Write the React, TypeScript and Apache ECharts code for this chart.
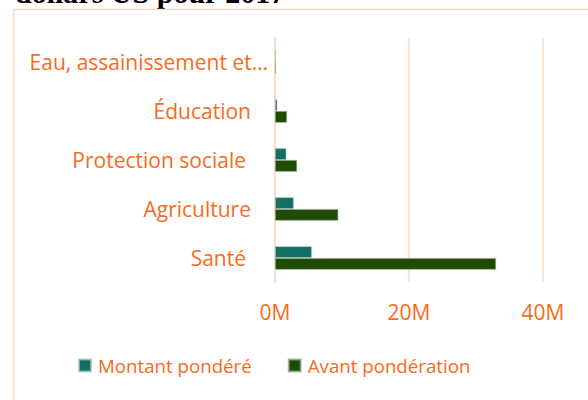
import React, { useEffect, useRef } from "react";
import * as echarts from "echarts";

const categories = ["Santé", "Agriculture", "Protection sociale", "Éducation", "Eau, assainissement et…"];
const montantPondere = [5.5, 2.8, 1.7, 0.35, 0.1];
const avantPonderation = [33.0, 9.45, 3.3, 1.8, 0.15];
const seriesNames = ["Montant pondéré", "Avant pondération"];
const xTicks = { min: 0, max: 40, interval: 20 };
const titleText = "dollars US pour 2017";

const ORANGE = "#F96A1B";
const PEACH = "#FDDAC6";
const FONT = "Open Sans";
const AX = 21;

export default function App() {
  const ref = useRef<HTMLDivElement>(null);
  useEffect(() => {
    if (!ref.current) return;
    const chart = echarts.init(ref.current, undefined, { renderer: "svg" });
    chart.setOption({
      animation: false,
      backgroundColor: "#ffffff",
      graphic: [
        {
          type: "text",
          left: 15,
          top: -23,
          style: { text: titleText, font: "bold 30px 'Liberation Serif', serif", fill: "#000" },
        },
        {
          type: "rect",
          shape: { x: 13.5, y: 9.5, width: 700, height: 500 },
          style: { fill: "none", stroke: PEACH, lineWidth: 1.5 },
        },
      ],
      legend: {
        left: 78,
        top: 356,
        padding: 0,
        itemWidth: 12,
        itemHeight: 12,
        itemGap: 36,
        icon: "rect",
        textStyle: { color: ORANGE, fontFamily: FONT, fontSize: 18.7, padding: [0, 0, 0, 2] },
        data: seriesNames,
      },
      grid: { left: 275, right: 45, top: 37.5, bottom: 117.5, containLabel: false },
      xAxis: {
        type: "value",
        min: xTicks.min,
        max: xTicks.max,
        interval: xTicks.interval,
        axisLine: { show: false },
        axisTick: { show: false },
        splitLine: { show: true, lineStyle: { color: PEACH, width: 1.5 } },
        axisLabel: {
          color: ORANGE,
          fontFamily: FONT,
          fontSize: AX,
          margin: 19,
          formatter: (v: number) => `${v}M`,
        },
      },
      yAxis: {
        type: "category",
        data: categories,
        axisLine: { show: true, lineStyle: { color: PEACH, width: 1.5 } },
        axisTick: { show: false },
        axisLabel: {
          color: ORANGE,
          fontFamily: FONT,
          fontSize: AX,
          margin: 7,
          formatter: (v: string) => {
            if (v.startsWith("Eau")) return `{a|${v}}`;
            if (v === "Santé" || v === "Protection sociale") return `{c|${v}}`;
            return `{b|${v}}`;
          },
          rich: {
            a: { color: ORANGE, fontFamily: FONT, fontSize: AX },
            b: { color: ORANGE, fontFamily: FONT, fontSize: AX, padding: [0, 17, 0, 0] },
            c: { color: ORANGE, fontFamily: FONT, fontSize: AX, padding: [0, 22, 0, 0] },
          },
        },
      },
      series: [
        {
          name: seriesNames[0],
          type: "bar",
          data: montantPondere,
          barGap: "0%",
          barCategoryGap: "52%",
          itemStyle: { color: "#156E63", borderColor: "rgba(160,200,190,0.7)", borderWidth: 0.8 },
        },
        {
          name: seriesNames[1],
          type: "bar",
          data: avantPonderation,
          barGap: "0%",
          barCategoryGap: "52%",
          itemStyle: { color: "#1E4D02", borderColor: "rgba(150,170,140,0.7)", borderWidth: 0.8 },
        },
      ],
    });
    return () => chart.dispose();
  }, []);
  return <div ref={ref} style={{ position: "fixed", left: 0, top: 0, width: 588, height: 400 }} />;
}
